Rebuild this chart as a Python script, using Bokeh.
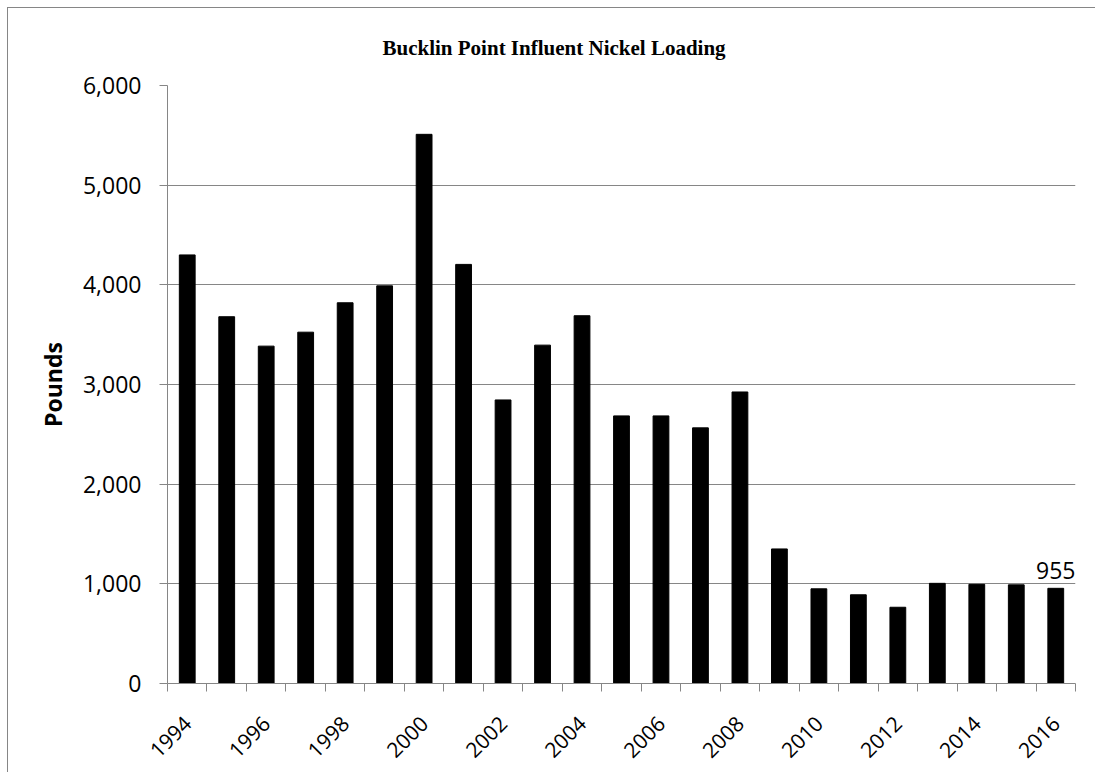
from math import pi
from bokeh.plotting import figure
from bokeh.models import Range1d, FixedTicker, Label, NumeralTickFormatter, ColumnDataSource
from bokeh.embed import file_html
from bokeh.resources import INLINE

# ---- data ----
years = list(range(1994, 2017))
pounds = [4300, 3680, 3385, 3525, 3820, 3990, 5510, 4205, 2845, 3395, 3690,
          2685, 2685, 2565, 2925, 1350, 950, 890, 765, 1005, 995, 990, 955]
label_years = list(range(1994, 2017, 2))
y_ticks = [0, 1000, 2000, 3000, 4000, 5000, 6000]
title_text = "Bucklin Point Influent Nickel Loading"
y_label = "Pounds"

GRAY = "#868686"
FONT = "Open Sans"

src = ColumnDataSource(data=dict(year=years, pounds=pounds))

p = figure(
    frame_width=908, frame_height=598,
    min_border_left=159, min_border_right=20, min_border_top=77, min_border_bottom=89,
    x_range=Range1d(years[0] - 0.5, years[-1] + 0.5),
    y_range=Range1d(0, 6000),
    output_backend="svg", toolbar_location=None,
    background_fill_color="white", border_fill_color="white",
)
p.styles = {"margin-left": "7px", "margin-top": "7px",
            "border-left": "1px solid #868686", "border-top": "1px solid #868686"}
p.outline_line_color = None

p.vbar(x="year", top="pounds", width=0.4, source=src, fill_color="black", line_color="black")

# title
p.title.text = title_text
p.title.text_font = "Liberation Serif"
p.title.text_font_size = "21px"
p.title.text_font_style = "bold"
p.title.text_color = "black"
p.title.align = "left"
p.title.offset = 215
p.title.standoff = 51

# x axis
xa = p.xaxis[0]
xa.ticker = FixedTicker(ticks=label_years, minor_ticks=[y - 0.5 for y in years] + [years[-1] + 0.5])
xa.major_label_orientation = pi / 4
xa.major_tick_line_color = None
xa.major_tick_out = 0
xa.major_tick_in = 0
xa.minor_tick_line_color = GRAY
xa.minor_tick_out = 8
xa.minor_tick_in = 0
xa.axis_line_color = GRAY
xa.major_label_text_font = FONT
xa.major_label_text_font_size = "21px"
xa.major_label_text_color = "black"
xa.major_label_standoff = 28

# y axis
ya = p.yaxis[0]
ya.ticker = FixedTicker(ticks=y_ticks)
ya.formatter = NumeralTickFormatter(format="0,0")
ya.minor_tick_line_color = None
ya.major_tick_line_color = GRAY
ya.major_tick_out = 8
ya.major_tick_in = 0
ya.axis_line_color = GRAY
ya.major_label_text_font = FONT
ya.major_label_text_font_size = "23px"
ya.major_label_text_color = "black"
ya.major_label_standoff = 18
ya.axis_label = y_label
ya.axis_label_text_font = FONT
ya.axis_label_text_font_size = "23px"
ya.axis_label_text_font_style = "bold"
ya.axis_label_text_color = "black"
ya.axis_label_standoff = 11

p.xgrid.visible = False
p.ygrid.ticker = FixedTicker(ticks=y_ticks)
p.ygrid.grid_line_color = GRAY

# data label on last bar
p.add_layout(Label(x=years[-1], y=pounds[-1], text=f"{pounds[-1]:,}", text_align="center",
                   text_baseline="alphabetic", y_offset=18, text_font=FONT,
                   text_font_size="23px", text_color="black"))

open("out.html", "w").write(file_html(p, INLINE))
